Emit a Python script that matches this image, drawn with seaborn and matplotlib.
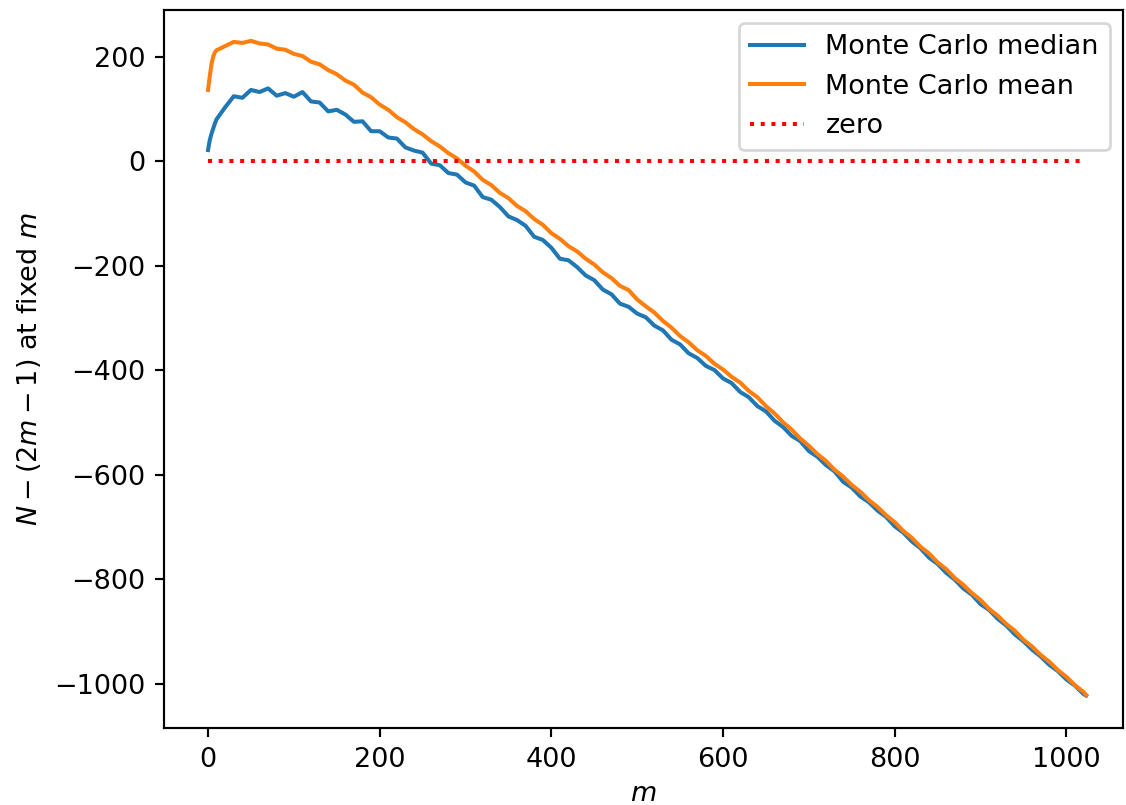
import numpy as np
import pandas as pd
import seaborn as sns
import matplotlib.pyplot as plt

m_vals = [0, 2, 4, 6, 8] + list(range(10, 1021, 10)) + [1023]

median_vals = [21, 40, 52, 62, 72,
               80, 103, 124, 121, 136, 132, 139, 125, 130, 123,
               132, 114, 112, 95, 98, 89, 75, 76, 57, 57,
               45, 43, 26, 20, 16, -5, -8, -23, -26, -41,
               -47, -69, -74, -88, -106, -113, -124, -145, -151, -166,
               -187, -190, -203, -219, -228, -246, -255, -273, -279, -292,
               -299, -315, -324, -342, -351, -368, -377, -392, -400, -416,
               -425, -442, -452, -469, -479, -497, -509, -526, -536, -555,
               -566, -582, -594, -614, -625, -642, -653, -669, -681, -699,
               -711, -728, -741, -759, -771, -788, -801, -818, -830, -848,
               -859, -876, -889, -906, -919, -935, -948, -964, -976, -992,
               -1004, -1020, -1023]

mean_vals = [136, 162, 185, 200, 208,
             212, 220, 228, 226, 230, 225, 223, 215, 213, 205,
             201, 190, 185, 174, 166, 154, 146, 131, 122, 108,
             98, 84, 74, 61, 51, 38, 28, 15, 5, -9,
             -20, -36, -46, -61, -71, -86, -96, -111, -122, -138,
             -149, -163, -173, -187, -198, -213, -224, -239, -247, -265,
             -278, -290, -306, -319, -335, -347, -362, -373, -388, -399,
             -413, -424, -440, -452, -469, -483, -500, -514, -531, -545,
             -561, -574, -591, -604, -620, -633, -649, -662, -678, -691,
             -708, -721, -738, -751, -768, -781, -798, -811, -827, -840,
             -857, -870, -886, -899, -916, -929, -945, -958, -974, -987,
             -1003, -1016, -1022]

zero_m = [0, 1023]
zero_vals = [0, 0]

colors = sns.color_palette("tab10")

fig = plt.figure(figsize=(1126 / 194, 805 / 194), dpi=194)
ax = fig.add_axes([164 / 1126, 77 / 805, (1123 - 164) / 1126, (728 - 10) / 805])

sns.lineplot(x=m_vals, y=median_vals, color=colors[0], label='Monte Carlo median', ax=ax)
sns.lineplot(x=m_vals, y=mean_vals, color=colors[1], label='Monte Carlo mean', ax=ax)
sns.lineplot(x=zero_m, y=zero_vals, color='red', linestyle=':', label='zero', ax=ax)

ax.set_xlim(-51.3, 1066)
ax.set_ylim(-1085, 289)
ax.set_xticks([0, 200, 400, 600, 800, 1000])
ax.set_yticks([-1000, -800, -600, -400, -200, 0, 200])
ax.set_xlabel(r'$m$', labelpad=3)
ax.set_ylabel(r'$N-(2m-1)$ at fixed $m$')
ax.legend(loc='upper right')

fig.savefig('out.png', dpi=194)
plt.close()
